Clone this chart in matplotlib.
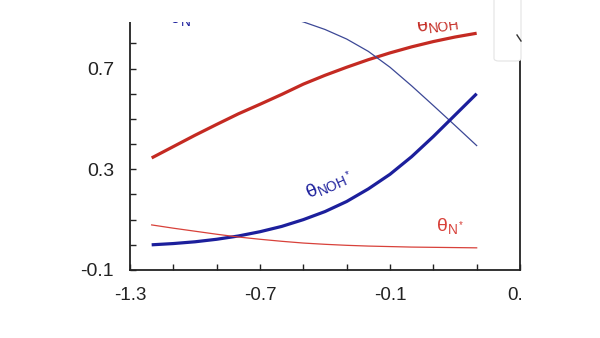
import matplotlib.pyplot as plt
from matplotlib.patches import Rectangle, FancyBboxPatch
from matplotlib.lines import Line2D
import numpy as np

# potential (x) and coverages
potential = [-1.2, -1.1, -1.0, -0.9, -0.8, -0.7, -0.6, -0.5,
             -0.4, -0.3, -0.2, -0.1, 0.0, 0.1, 0.2, 0.3]
theta_NOH = [0.345, 0.39, 0.435, 0.478, 0.52, 0.558, 0.597, 0.638,
             0.673, 0.705, 0.735, 0.762, 0.786, 0.807, 0.825, 0.84]
theta_N = [0.965, 0.963, 0.96, 0.955, 0.945, 0.93, 0.91, 0.885,
           0.855, 0.817, 0.768, 0.705, 0.631, 0.553, 0.474, 0.394]
theta_NOHs = [0.0, 0.005, 0.012, 0.022, 0.035, 0.052, 0.073, 0.10,
              0.132, 0.172, 0.222, 0.28, 0.35, 0.43, 0.515, 0.60]
theta_Ns = [0.079, 0.066, 0.054, 0.042, 0.031, 0.022, 0.014, 0.007,
            0.002, -0.002, -0.005, -0.007, -0.009, -0.010, -0.011, -0.012]

xticks = [-1.3, -0.7, -0.1, 0.5]
yticks = [-0.1, 0.3, 0.7]

plt.rcParams['font.family'] = ['Liberation Sans', 'DejaVu Sans']
plt.rcParams['mathtext.fontset'] = 'custom'
plt.rcParams['mathtext.rm'] = 'Liberation Sans'

fig = plt.figure(figsize=(6, 3.38), dpi=100)
ax = fig.add_axes([130/600, 68/338, 390/600, 270/338])

red = '#c42a22'
blue = '#1c1f9c'
ax.plot(potential, theta_NOH, color=red, lw=2.3, solid_capstyle='butt')
ax.plot(potential, theta_N, color='#3c4896', lw=0.9)
ax.plot(potential, theta_NOHs, color=blue, lw=2.3, solid_capstyle='butt')
ax.plot(potential, theta_Ns, color='#d8413a', lw=0.9)

ax.set_xlim(-1.3, 0.5)
ax.set_ylim(-0.1, 0.972)
ax.set_xticks(xticks)
ax.set_xticklabels(['-1.3', '-0.7', '-0.1', '0.5'])
ax.set_xticks(np.arange(-1.1, 0.45, 0.2), minor=True)
ax.set_yticks(yticks)
ax.set_yticklabels(['-0.1', '0.3', '0.7'])
ax.set_yticks(np.arange(0.0, 0.95, 0.1), minor=True)
ax.tick_params(which='both', direction='in', length=4, width=1, color='#222222',
               top=False)
ax.tick_params(axis='x', which='major', pad=12.5, labelsize=13.5, labelcolor='#222222')
ax.tick_params(axis='y', which='major', pad=11.5, labelsize=14, labelcolor='#222222')
ax.spines['top'].set_visible(False)
for s in ['left', 'bottom', 'right']:
    ax.spines[s].set_linewidth(1.3)
    ax.spines[s].set_color('#222222')

# curve labels
ax.text(-1.12, 0.855, 'θ$_{\\mathrm{N^*}}$', color=blue, fontsize=14, ha='left', va='bottom')
ax.text(0.12, 0.823, 'θ$_{\\mathrm{NOH}}$', color=red, fontsize=14, ha='center', va='bottom',
        rotation=8)
ax.text(-0.38, 0.24, 'θ$_{\\mathrm{NOH^*}}$', color=blue, fontsize=14, ha='center', va='center',
        rotation=24)
ax.text(0.18, 0.07, 'θ$_{\\mathrm{N^*}}$', color='#d8413a', fontsize=14, ha='center', va='center')

# cropped screenshot edges
fig.add_artist(Rectangle((0, 1 - 22/338), 1, 22/338, transform=fig.transFigure,
                         facecolor='white', edgecolor='none', zorder=10))
fig.add_artist(Rectangle((523/600, 0), 77/600, 1, transform=fig.transFigure,
                         facecolor='white', edgecolor='none', zorder=10))
fig.add_artist(FancyBboxPatch((494/600, 1 - 61/338), 27/600, 80/338,
                              boxstyle='round,pad=0,rounding_size=0.008',
                              transform=fig.transFigure, facecolor='white',
                              edgecolor='#e4e4e4', lw=0.8, zorder=11))
fig.add_artist(Line2D([517/600, 521/600], [1 - 35/338, 1 - 41/338],
                      transform=fig.transFigure, color='#333333', lw=1, zorder=12))

fig.savefig('out.png', dpi=100)
